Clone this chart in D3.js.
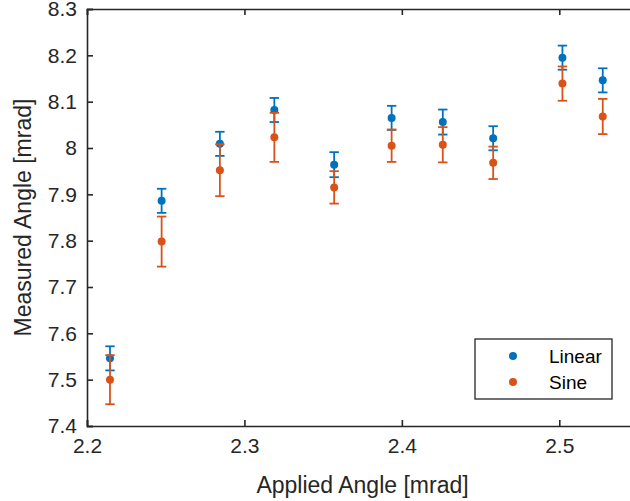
<!DOCTYPE html>
<html>
<head>
<meta charset="utf-8">
<script src="https://cdn.jsdelivr.net/npm/d3@7"></script>
<style>
  body { margin: 0; background: #fff; }
  svg { display: block; font-family: "Liberation Sans", Arial, sans-serif; }
</style>
</head>
<body>
<div class="chartBox"></div>
<script>
// values
var appliedAngle = [2.2146, 2.2474, 2.2844, 2.3190, 2.3570, 2.3935, 2.4260, 2.4580, 2.5020, 2.5276];
var linearVals = [7.546, 7.886, 8.009, 8.082, 7.964, 8.065, 8.056, 8.021, 8.195, 8.146];
var linearErr  = [0.026, 0.026, 0.026, 0.026, 0.027, 0.026, 0.027, 0.026, 0.026, 0.026];
var sineVals   = [7.500, 7.798, 7.952, 8.023, 7.915, 8.005, 8.007, 7.968, 8.139, 8.068];
var sineErr    = [0.053, 0.054, 0.056, 0.053, 0.035, 0.035, 0.038, 0.035, 0.037, 0.038];
var xTicks = [2.2, 2.3, 2.4, 2.5];
var yTicks = [7.4, 7.5, 7.6, 7.7, 7.8, 7.9, 8, 8.1, 8.2, 8.3];
var seriesNames = ["Linear", "Sine"];
var seriesColors = ["#0072BD", "#D95319"];

var width = 630, height = 501;
var plotLeft = 87, plotRight = 638, plotTop = 9, plotBottom = 426;
var axisColor = "#262626";

var x = d3.scaleLinear().domain([2.2, 2.55]).range([plotLeft, plotRight]);
var y = d3.scaleLinear().domain([7.4, 8.3]).range([plotBottom, plotTop]);

var svg = d3.select(".chartBox").append("svg")
  .attr("width", width)
  .attr("height", height);

/**
* Draws one errorbar series: vertical line, caps and a dot
**/
var drawSeries = function(vals, errs, color){
  var g = svg.append("g");
  var capHalf = 4.7;
  vals.forEach(function(v, i){
    var cx = x(appliedAngle[i]);
    var y1 = y(v + errs[i]), y2 = y(v - errs[i]);
    g.append("line").attr("x1", cx).attr("x2", cx).attr("y1", y1).attr("y2", y2)
      .attr("stroke", color).attr("stroke-width", 1.8);
    [y1, y2].forEach(function(cy){
      g.append("line").attr("x1", cx - capHalf).attr("x2", cx + capHalf)
        .attr("y1", cy).attr("y2", cy)
        .attr("stroke", color).attr("stroke-width", 1.8);
    });
    g.append("circle").attr("cx", cx).attr("cy", y(v)).attr("r", 4).attr("fill", color);
  });
};

// axes: bottom and left with inward ticks, top box line with ticks
var xAxis = d3.axisBottom(x).tickValues(xTicks).tickSize(-6).tickPadding(12)
  .tickFormat(d3.format(".1f"));
var yAxis = d3.axisLeft(y).tickValues(yTicks).tickSize(-6).tickPadding(10)
  .tickFormat(function(d){ return d === 8 ? "8" : d3.format(".1f")(d); });

var gx = svg.append("g").attr("transform", "translate(0," + plotBottom + ")").call(xAxis);
var gy = svg.append("g").attr("transform", "translate(" + plotLeft + ",0)").call(yAxis);
var gTop = svg.append("g").attr("transform", "translate(0," + plotTop + ")")
  .call(d3.axisTop(x).tickValues(xTicks).tickSize(-6).tickFormat(""));

[gx, gy, gTop].forEach(function(g){
  g.select(".domain").attr("stroke", axisColor).attr("stroke-width", 1.6);
  g.selectAll(".tick line").attr("stroke", axisColor).attr("stroke-width", 1.6);
  g.selectAll(".tick text").attr("fill", axisColor)
    .style("font-size", "21px").style("font-family", "\"Liberation Sans\", Arial, sans-serif");
});

drawSeries(linearVals, linearErr, seriesColors[0]);
drawSeries(sineVals, sineErr, seriesColors[1]);

// axis labels
svg.append("text")
  .attr("x", (plotLeft + plotRight) / 2).attr("y", 493)
  .attr("text-anchor", "middle")
  .attr("fill", axisColor)
  .style("font-size", "23px")
  .text("Applied Angle [mrad]");

svg.append("text")
  .attr("transform", "translate(31," + (plotTop + plotBottom) / 2 + ") rotate(-90)")
  .attr("text-anchor", "middle")
  .attr("fill", axisColor)
  .style("font-size", "23px")
  .text("Measured Angle [mrad]");

// legend
var legend = svg.append("g");
legend.append("rect")
  .attr("x", 475).attr("y", 339).attr("width", 137).attr("height", 60)
  .attr("fill", "#fff").attr("stroke", axisColor).attr("stroke-width", 1.3);
seriesNames.forEach(function(name, i){
  var ly = 356 + i * 26;
  legend.append("circle").attr("cx", 513).attr("cy", ly).attr("r", 4).attr("fill", seriesColors[i]);
  legend.append("text").attr("x", 549).attr("y", ly).attr("dy", "0.35em")
    .attr("fill", "#000").style("font-size", "19px").text(name);
});
</script>
</body>
</html>
